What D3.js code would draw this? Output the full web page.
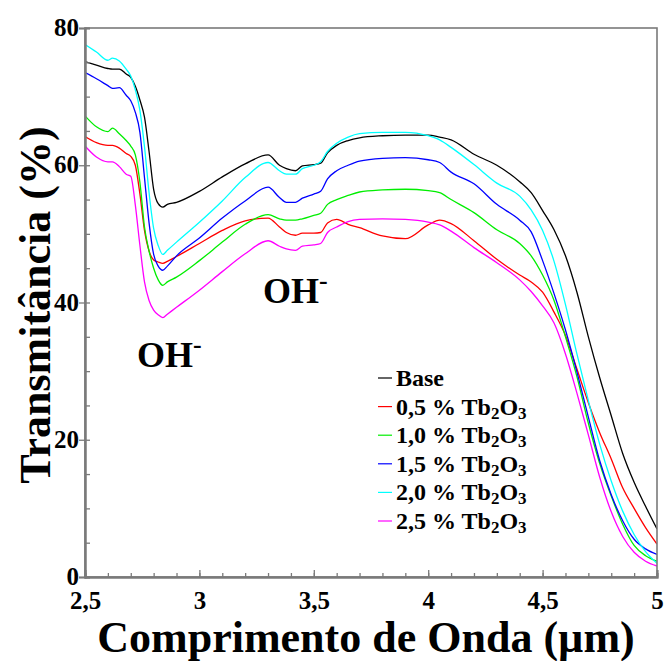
<!DOCTYPE html>
<html>
<head>
<meta charset="utf-8">
<script src="https://cdn.jsdelivr.net/npm/d3@7"></script>
<style>
  html, body { margin: 0; padding: 0; background: #fff; }
  svg { display: block; }
  text { font-family: "Liberation Serif", "Times New Roman", serif; font-weight: bold; }
</style>
</head>
<body>
<svg id="chart" width="664" height="661"></svg>
<script>
// Wavelength grid (µm) shared by every spectrum
const wavelength = [2.50,2.55,2.60,2.62,2.65,2.68,2.70,2.72,2.74,2.76,2.78,2.80,2.82,2.84,2.86,2.90,3.00,3.10,3.20,3.30,3.35,3.38,3.42,3.45,3.50,3.53,3.56,3.60,3.65,3.70,3.80,3.90,4.00,4.05,4.10,4.20,4.30,4.40,4.45,4.50,4.55,4.60,4.65,4.70,4.75,4.80,4.85,4.90,4.95,5.00];

// Transmittance (%) of each glass
const base  = [75.1,74.6,74.1,74.0,74.0,73.3,72.8,71.5,69.5,67.0,62.0,56.5,54.4,53.9,54.3,54.6,56.2,58.3,60.2,61.5,60.0,59.5,59.2,59.9,60.1,60.3,61.8,62.9,63.6,64.0,64.3,64.4,64.4,64.1,63.7,61.6,60.0,57.6,56.0,53.4,50.6,46.8,41.5,35.0,29.0,23.5,18.0,13.8,10.3,7.0];
const tb05  = [64.2,63.3,62.9,62.9,62.5,61.7,61.3,60.0,55.8,50.5,47.5,46.2,45.9,45.7,46.0,46.7,48.6,50.5,51.9,52.3,51.0,50.2,49.8,50.1,50.1,50.2,51.6,52.1,51.4,50.9,49.7,49.3,51.3,52.0,51.5,49.0,46.3,44.0,43.0,41.5,38.6,35.2,30.3,25.4,21.0,17.2,13.0,10.0,7.2,4.8];
const tb10  = [67.2,65.6,64.9,65.4,64.6,63.6,62.8,61.5,57.5,51.0,47.5,45.0,43.3,42.5,43.0,43.7,46.1,48.8,51.4,52.8,52.2,52.0,52.0,52.2,52.7,53.0,54.3,55.0,55.6,56.1,56.4,56.5,56.3,56.0,55.0,53.1,50.6,48.6,46.8,44.0,40.3,35.0,29.2,22.4,16.5,11.8,7.7,4.6,3.1,2.3];
const tb15  = [73.5,72.6,71.6,71.2,71.3,70.2,69.4,67.7,64.8,58.2,51.6,47.0,45.3,44.7,45.3,46.8,49.4,52.3,54.8,56.8,55.3,54.6,54.6,55.2,55.8,56.2,58.0,59.2,60.0,60.6,61.0,61.1,60.8,60.4,59.0,57.3,54.3,52.0,50.3,46.1,41.3,36.0,29.9,23.3,16.9,12.0,8.2,5.5,4.1,3.3];
const tb20  = [77.6,76.5,75.3,75.6,75.2,74.0,73.0,71.0,68.0,62.7,56.0,50.8,48.3,47.0,47.6,48.8,51.7,54.8,58.2,60.4,59.2,58.7,58.7,59.5,60.0,60.5,62.0,63.2,64.1,64.6,64.8,64.8,64.3,63.7,62.6,60.1,57.4,55.5,53.5,50.5,46.0,39.7,32.5,25.7,19.3,14.0,9.6,6.2,3.7,2.0];
const tb25  = [62.8,61.2,60.5,60.5,59.8,58.7,58.4,54.2,48.3,43.0,40.3,38.9,38.2,37.8,38.3,39.3,41.8,44.5,47.1,49.0,48.2,47.8,47.6,48.2,48.4,48.6,50.2,51.0,51.8,52.1,52.2,52.1,51.7,51.3,50.4,48.0,45.8,43.3,41.6,39.5,37.0,32.5,26.8,20.7,14.5,9.5,5.9,3.6,2.3,1.6];

// Legend entries: label prefix and line colour
const seriesNames  = ["Base", "0,5 %", "1,0 %", "1,5 %", "2,0 %", "2,5 %"];
const seriesColors = ["#000000", "#ff0000", "#00ee00", "#0000ff", "#00ffff", "#ff00ff"];
const seriesValues = [base, tb05, tb10, tb15, tb20, tb25];

// Axis ticks
const xTicks = [2.5, 3, 3.5, 4, 4.5, 5];
const yTicks = [0, 20, 40, 60, 80];

const svg = d3.select("#chart");
const plotLeft = 85, plotRight = 657, plotTop = 28, plotBottom = 577;

const x = d3.scaleLinear().domain([2.5, 5]).range([plotLeft, plotRight]);
const y = d3.scaleLinear().domain([0, 80]).range([plotBottom, plotTop]);

const axisColor = "#7a7a7a";
const comma = d => String(d).replace(".", ",");

// Spectra
const line = d3.line()
  .x((d, i) => x(wavelength[i]))
  .y(d => y(d))
  .curve(d3.curveMonotoneX);

const plot = svg.append("g");
plot.append("defs").append("clipPath").attr("id", "clip")
  .append("rect").attr("x", plotLeft).attr("y", plotTop)
  .attr("width", plotRight - plotLeft).attr("height", plotBottom - plotTop);

seriesValues.forEach((vals, k) => {
  plot.append("path")
    .datum(vals)
    .attr("clip-path", "url(#clip)")
    .attr("fill", "none")
    .attr("stroke", seriesColors[k])
    .attr("stroke-width", 1.3)
    .attr("d", line);
});

// Frame (top and right borders)
svg.append("rect")
  .attr("x", plotLeft).attr("y", plotTop)
  .attr("width", plotRight - plotLeft).attr("height", plotBottom - plotTop)
  .attr("fill", "none").attr("stroke", axisColor).attr("stroke-width", 1.6);

// X axis: minor ticks every 0.1, major ticks labelled
const xMinor = d3.axisBottom(x).tickValues(d3.range(25, 51).map(v => v / 10)).tickSize(-4).tickFormat("");
const gxm = svg.append("g").attr("transform", `translate(0,${plotBottom})`).call(xMinor);
const xMajor = d3.axisBottom(x).tickValues(xTicks).tickSize(-7).tickPadding(14).tickFormat(comma);
const gx = svg.append("g").attr("transform", `translate(0,${plotBottom})`).call(xMajor);

// Y axis: minor ticks every 5 (inside), major ticks outside
const yMinor = d3.axisLeft(y).tickValues(d3.range(0, 81, 5)).tickSize(-5).tickFormat("");
const gym = svg.append("g").attr("transform", `translate(${plotLeft},0)`).call(yMinor);
const yMajor = d3.axisLeft(y).tickValues(yTicks).tickSize(6).tickPadding(0).tickFormat(d => d);
const gy = svg.append("g").attr("transform", `translate(${plotLeft},0)`).call(yMajor);

[gxm, gx, gym, gy].forEach(g => {
  g.select(".domain").attr("stroke", axisColor).attr("stroke-width", 2);
  g.selectAll(".tick line").attr("stroke", axisColor).attr("stroke-width", 1.3);
});
gx.selectAll(".tick text").attr("font-size", 25).attr("fill", "#000");
gy.selectAll(".tick text").attr("font-size", 25).attr("fill", "#000").attr("dy", "0.3em");
svg.selectAll(".tick text").style("font-family", '"Liberation Serif", serif').style("font-weight", "bold");

// Axis titles
svg.append("text")
  .attr("x", 366).attr("y", 652)
  .attr("text-anchor", "middle")
  .attr("font-size", 44)
  .text("Comprimento de Onda (µm)");

svg.append("text")
  .attr("transform", "translate(50,305) rotate(-90)")
  .attr("text-anchor", "middle")
  .attr("font-size", 44)
  .text("Transmitância (%)");

// Band annotations
function ohLabel(px, py) {
  const t = svg.append("text").attr("x", px).attr("y", py).attr("font-size", 36);
  t.append("tspan").text("OH");
  t.append("tspan").attr("font-size", 26).attr("dy", -14).text("-");
}
ohLabel(137, 367);
ohLabel(263, 303);

// Legend
const legend = svg.append("g");
const rowY = d3.scaleLinear().domain([0, 5]).range([378, 521]);
seriesNames.forEach((name, k) => {
  const cy = rowY(k);
  legend.append("line")
    .attr("x1", 378).attr("x2", 392).attr("y1", cy).attr("y2", cy)
    .attr("stroke", seriesColors[k]).attr("stroke-width", 1.2);
  const t = legend.append("text")
    .attr("x", 396).attr("y", cy + 8)
    .attr("font-size", 24);
  if (k === 0) {
    t.text(name);
  } else {
    t.append("tspan").text(name + " Tb");
    t.append("tspan").attr("font-size", 17).attr("dy", 4).text("2");
    t.append("tspan").attr("dy", -4).text("O");
    t.append("tspan").attr("font-size", 17).attr("dy", 4).text("3");
  }
});
</script>
</body>
</html>
